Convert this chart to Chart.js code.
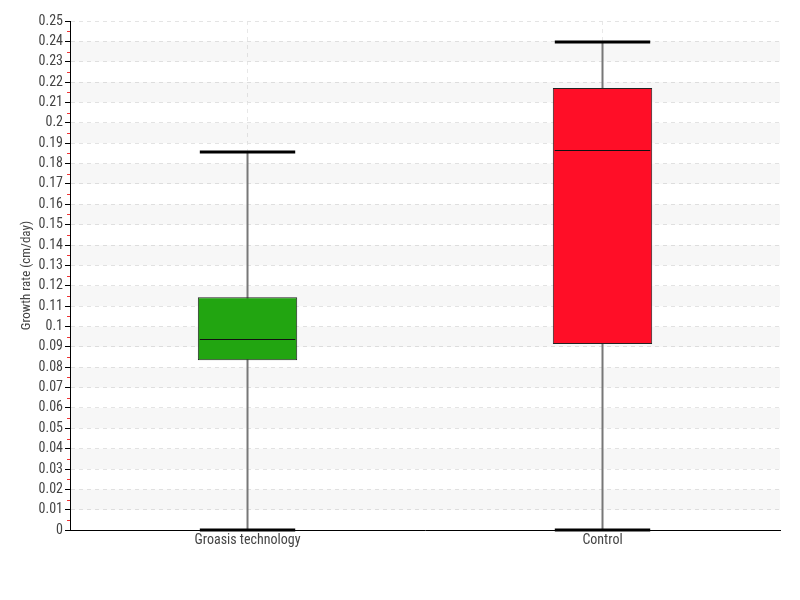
<!DOCTYPE html>
<html>
<head>
<meta charset="utf-8">
<script src="https://cdn.jsdelivr.net/npm/chart.js@4/dist/chart.umd.min.js"></script>
<style>
  html, body { margin: 0; padding: 0; background: #fff; }
  #wrap { width: 800px; height: 600px; }
</style>
</head>
<body>
<div id="wrap"><canvas id="boxChart"></canvas></div>
<script>
// box plot values
const groups = ["Groasis technology", "Control"];
const minVals = [0.0, 0.0];
const q1Vals = [0.0835, 0.0914];
const medianVals = [0.0938, 0.1866];
const q3Vals = [0.1144, 0.2171];
const maxVals = [0.1857, 0.2397];
const boxColors = ["#22a511", "#ff0e27"];

const FONT = "'Liberation Sans Narrow', 'Roboto Condensed', 'DejaVu Sans Condensed', sans-serif";

// shaded bands behind every second 0.01 step
const bandPlugin = {
    id: 'bands',
    beforeDatasetsDraw(chart) {
        const ctx = chart.ctx, y = chart.scales.y, area = chart.chartArea;
        ctx.save();
        ctx.fillStyle = "rgba(0,0,0,0.03)";
        for (let i = 1; i < 25; i += 2) {
            const top = y.getPixelForValue((i + 1) / 100);
            const bot = y.getPixelForValue(i / 100);
            ctx.fillRect(area.left, top, area.right - area.left, bot - top);
        }
        ctx.restore();
    }
};

// whiskers, medians and caps drawn from the data arrays
const boxPlugin = {
    id: 'boxparts',
    beforeDatasetsDraw(chart) {
        const ctx = chart.ctx, y = chart.scales.y;
        const meta = chart.getDatasetMeta(0);
        ctx.save();
        ctx.strokeStyle = "#777";
        ctx.lineWidth = 2;
        meta.data.forEach((bar, i) => {
            ctx.beginPath();
            ctx.moveTo(bar.x, y.getPixelForValue(minVals[i]));
            ctx.lineTo(bar.x, y.getPixelForValue(maxVals[i]));
            ctx.stroke();
        });
        ctx.restore();
    },
    afterDatasetsDraw(chart) {
        const ctx = chart.ctx, y = chart.scales.y;
        const meta = chart.getDatasetMeta(0);
        ctx.save();
        meta.data.forEach((bar, i) => {
            const half = bar.width / 2;
            // median
            ctx.strokeStyle = "#111";
            ctx.lineWidth = 1;
            const my = Math.round(y.getPixelForValue(medianVals[i])) + 0.5;
            ctx.beginPath();
            ctx.moveTo(bar.x - half + 2, my);
            ctx.lineTo(bar.x + half - 2, my);
            ctx.stroke();
            // caps
            ctx.strokeStyle = "#000";
            ctx.lineWidth = 3;
            [minVals[i], maxVals[i]].forEach(v => {
                const cy = Math.round(y.getPixelForValue(v));
                ctx.beginPath();
                ctx.moveTo(bar.x - half + 2, cy);
                ctx.lineTo(bar.x + half - 2, cy);
                ctx.stroke();
            });
        });
        // red minor ticks between the labelled ones
        ctx.strokeStyle = "#e33";
        ctx.lineWidth = 1;
        const left = chart.chartArea.left;
        for (let i = 0; i < 25; i++) {
            const ty = Math.round(y.getPixelForValue((i + 0.5) / 100)) + 0.5;
            ctx.beginPath();
            ctx.moveTo(left - 3, ty);
            ctx.lineTo(left, ty);
            ctx.stroke();
        }
        ctx.restore();
    }
};

const data = {
    labels: groups,
    datasets: [{
        data: groups.map((g, i) => [q1Vals[i], q3Vals[i]]),
        backgroundColor: boxColors,
        borderColor: "#222",
        borderWidth: 1,
        borderSkipped: false,
        categoryPercentage: 1.0,
        barPercentage: 0.28
    }]
};

new Chart(document.getElementById('boxChart'), {
    type: 'bar',
    data: data,
    plugins: [bandPlugin, boxPlugin],
    options: {
        responsive: true,
        maintainAspectRatio: false,
        animation: false,
        layout: { padding: { top: 21, right: 20, bottom: 49, left: 17 } },
        plugins: {
            legend: { display: false },
            tooltip: { enabled: false }
        },
        scales: {
            x: {
                grid: {
                    offset: false,
                    color: "#e8e8e8",
                    drawTicks: false
                },
                border: { color: "#000", width: 1, dash: [4, 4] },
                ticks: { color: "#444", font: { family: FONT, size: 14 }, padding: 2 }
            },
            y: {
                min: 0,
                max: 0.25,
                ticks: {
                    stepSize: 0.01,
                    color: "#444",
                    font: { family: FONT, size: 14 },
                    padding: 2,
                    callback: function(value) {
                        return String(parseFloat(value.toFixed(2)));
                    }
                },
                grid: {
                    color: "#e4e4e4",
                    tickColor: "#000",
                    tickLength: 5,
                    tickBorderDash: [],
                    drawOnChartArea: true
                },
                border: { color: "#000", width: 1, dash: [4, 4], display: true },
                title: {
                    display: true,
                    text: "Growth rate (cm/day)",
                    color: "#444",
                    font: { family: FONT, size: 13 },
                    padding: 2
                }
            }
        }
    }
});
</script>
</body>
</html>
